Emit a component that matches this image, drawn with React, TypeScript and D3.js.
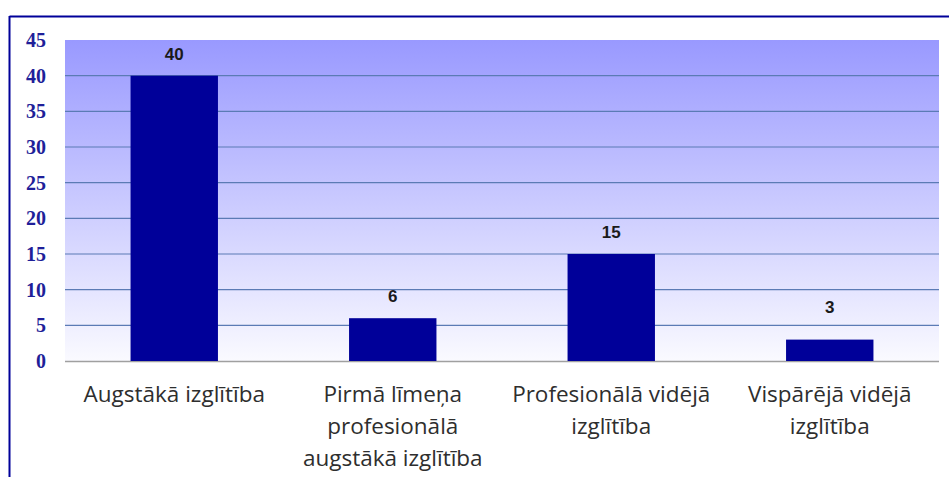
import React from "react";
import * as d3 from "d3";

const categories: string[][] = [
  ["Augstākā izglītība"],
  ["Pirmā līmeņa", "profesionālā", "augstākā izglītība"],
  ["Profesionālā vidējā", "izglītība"],
  ["Vispārējā vidējā", "izglītība"],
];
const values: number[] = [40, 6, 15, 3];
const yTicks: number[] = [0, 5, 10, 15, 20, 25, 30, 35, 40, 45];

const W = 949;
const H = 477;
const plot = { left: 65, right: 939, top: 40, bottom: 361 };

export default function App() {
  const x = d3
    .scaleBand<number>()
    .domain(values.map((_, i) => i))
    .range([plot.left, plot.right])
    .paddingInner(0.6)
    .paddingOuter(0.3);
  const y = d3.scaleLinear().domain([0, 45]).range([plot.bottom, plot.top]);

  return (
    <svg
      width={W}
      height={H}
      style={{ position: "absolute", left: 0, top: 0, background: "#fff" }}
    >
      <defs>
        <linearGradient id="bg" x1="0" y1="0" x2="0" y2="1">
          <stop offset="0" stopColor="#9999ff" />
          <stop offset="1" stopColor="#fafaff" />
        </linearGradient>
      </defs>
      <line x1={9.5} y1={16.5} x2={W} y2={16.5} stroke="#000099" strokeWidth={2} />
      <line x1={9.5} y1={16} x2={9.5} y2={H} stroke="#000099" strokeWidth={2} />
      <rect
        x={plot.left}
        y={plot.top}
        width={plot.right - plot.left}
        height={plot.bottom - plot.top}
        fill="url(#bg)"
      />
      {yTicks.slice(1, -1).map((t) => (
        <line
          key={t}
          x1={plot.left}
          x2={plot.right}
          y1={y(t)}
          y2={y(t)}
          stroke="#5b7bb5"
          strokeWidth={1.2}
        />
      ))}
      <line
        x1={plot.left}
        x2={plot.right}
        y1={plot.bottom + 0.5}
        y2={plot.bottom + 0.5}
        stroke="#a0a0a0"
        strokeWidth={1.5}
      />
      {yTicks.map((t) => (
        <text
          key={t}
          x={46}
          y={y(t)}
          dy="0.35em"
          textAnchor="end"
          fontFamily="'Liberation Serif', 'Times New Roman', serif"
          fontWeight="bold"
          fontSize={20}
          fill="#1f1f99"
        >
          {t}
        </text>
      ))}
      {values.map((v, i) => (
        <g key={i}>
          <rect
            x={x(i)}
            y={y(v)}
            width={x.bandwidth()}
            height={y(0) - y(v)}
            fill="#000099"
          />
          <text
            x={(x(i) as number) + x.bandwidth() / 2}
            y={Math.min(y(v) - 16, y(5) - 12)}
            textAnchor="middle"
            fontFamily="'Liberation Sans', Arial, sans-serif"
            fontWeight="bold"
            fontSize={17}
            fill="#1a1a1a"
          >
            {v}
          </text>
          {categories[i].map((line, j) => (
            <text
              key={j}
              x={(x(i) as number) + x.bandwidth() / 2}
              y={402 + j * 32}
              textAnchor="middle"
              fontFamily="'Open Sans', 'Noto Sans', sans-serif"
              fontSize={22.5}
              fill="#2e2e2e"
            >
              {line}
            </text>
          ))}
        </g>
      ))}
    </svg>
  );
}
